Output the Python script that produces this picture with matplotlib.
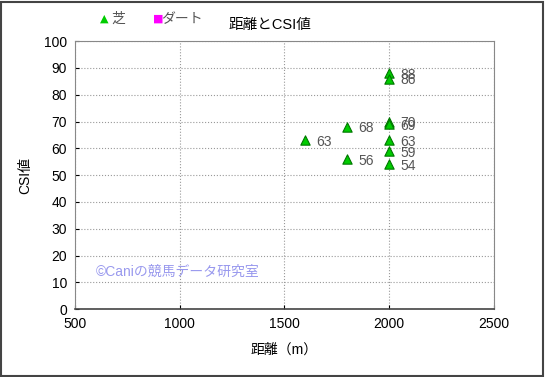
import matplotlib.pyplot as plt
from matplotlib.patches import Rectangle

plt.rcParams['font.family'] = ['Liberation Sans', 'Noto Sans CJK JP', 'DejaVu Sans']

# 芝のデータ
distance = [1600, 1800, 1800, 2000, 2000, 2000, 2000, 2000, 2000, 2000]
csi = [63, 68, 56, 88, 86, 70, 69, 63, 59, 54]

fig = plt.figure(figsize=(5.45, 3.77), dpi=100)
ax = fig.add_axes([0.138, 0.180, 0.768, 0.711])

ax.scatter(distance, csi, marker='^', s=45, color='#00cc00',
           edgecolors='#007700', linewidths=0.8, zorder=3)
for x, y in zip(distance, csi):
    ax.annotate(str(y), (x, y), xytext=(8, -4), textcoords='offset points',
                fontsize=10, color='#555555')

ax.set_xlim(500, 2500)
ax.set_ylim(0, 100)
ax.set_xticks(range(500, 2501, 500))
ax.set_yticks(range(0, 101, 10))
ax.tick_params(labelsize=10, direction='in', length=3, colors='#000000', pad=6)
ax.grid(True, linestyle=':', color='#999999', linewidth=0.8)
for s in ax.spines.values():
    s.set_color('#888888')
ax.spines['bottom'].set_color('#444444')
ax.spines['bottom'].set_linewidth(1.2)

ax.set_xlabel('距離（m）', fontsize=10, labelpad=8)
ax.set_ylabel('CSI値', fontsize=10, labelpad=8)

fig.text(0.495, 0.935, '距離とCSI値', fontsize=10.5, ha='center', va='center')

# 凡例
fig.text(0.184, 0.95, '▲', fontsize=8, color='#00cc00', va='center',
         family=['DejaVu Sans'])
fig.text(0.204, 0.95, '芝', fontsize=10, color='#555555', va='center')
fig.text(0.28, 0.95, '■', fontsize=8, color='#ff00ff', va='center',
         family=['DejaVu Sans'])
fig.text(0.296, 0.95, 'ダート', fontsize=10, color='#555555', va='center')

ax.text(0.05, 0.14, '©Caniの競馬データ研究室', transform=ax.transAxes,
        fontsize=10, color='#9999ee', va='center')

fig.patches.append(Rectangle((0.002, 0.003), 0.995, 0.993, transform=fig.transFigure,
                             fill=False, edgecolor='#444444', linewidth=1.5))

fig.savefig('out.png', dpi=100)
